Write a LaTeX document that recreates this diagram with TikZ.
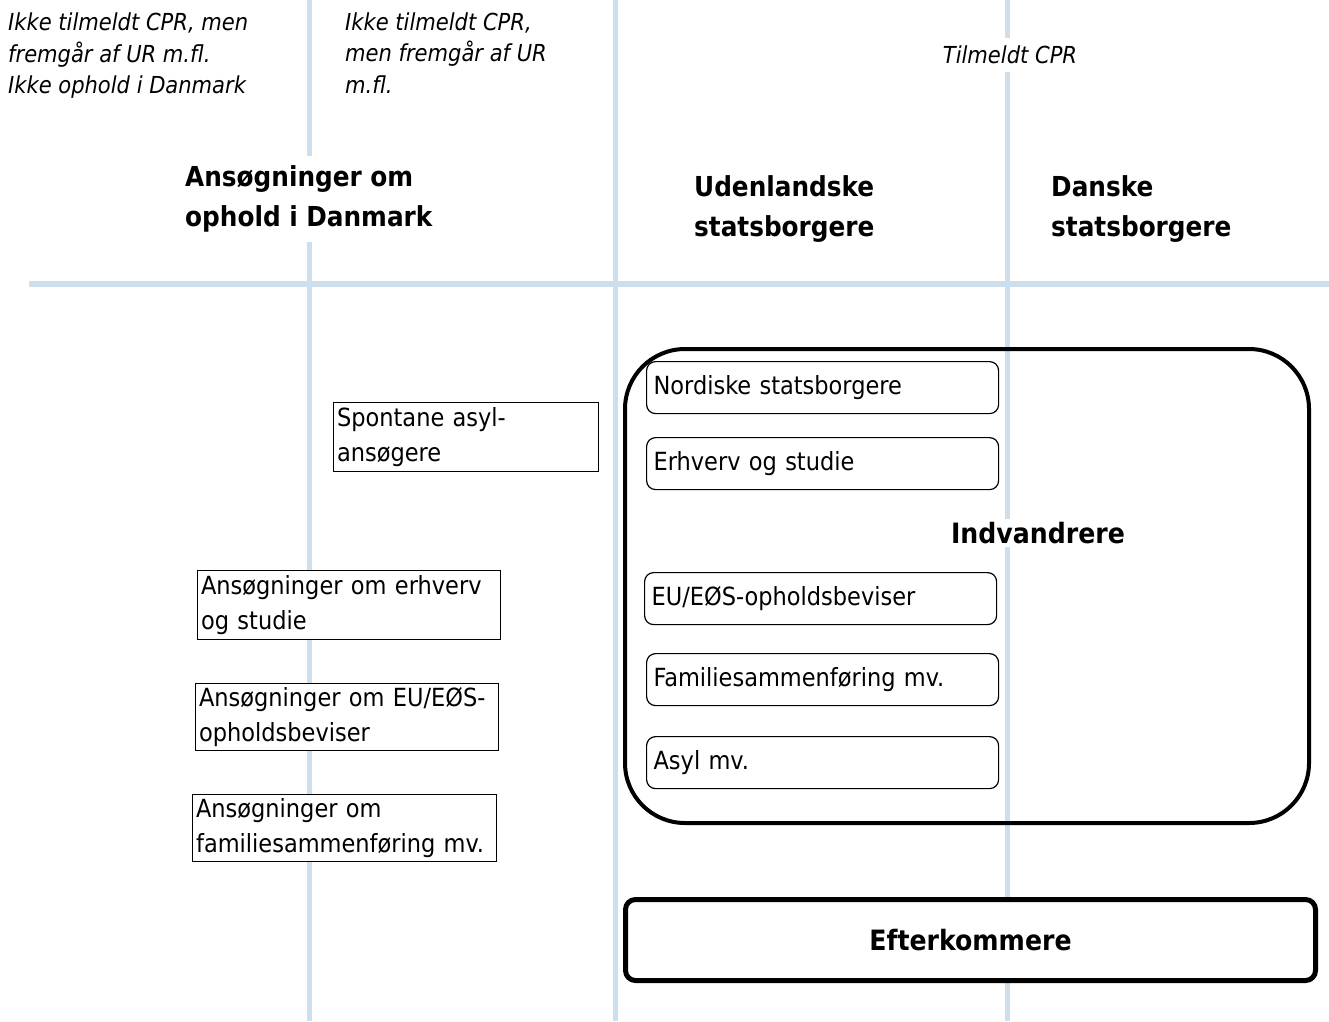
\documentclass[tikz,border=0pt]{standalone}
\usepackage{fontspec}
\setmainfont{DejaVu Sans Condensed}
\usepackage{tikz}
\usetikzlibrary{positioning}
\definecolor{gridblue}{RGB}{205,222,236}

\begin{document}
\begin{tikzpicture}[
  x=1pt, y=-1pt,
  grid/.style={draw=gridblue, line width=5pt},
  note/.style={align=left, inner sep=0pt,
               font=\fontsize{23.4}{31.5}\selectfont\itshape},
  head/.style={anchor=west, align=left, inner xsep=0pt,
               font=\fontsize{27.5}{40}\selectfont\bfseries},
  sqbox/.style 2 args={draw, line width=1.2pt, fill=white, anchor=north west,
               align=left, inner xsep=3.5pt, inner ysep=0pt, text width=#1,
               minimum height=#2, font=\fontsize{25}{35}\selectfont},
  rbox/.style={sqbox={338pt}{52pt}, rounded corners=9pt, inner xsep=7pt},
  every node/.style={font=\fontsize{25}{35}\selectfont}]

\useasboundingbox (0,0) rectangle (1329,1021);

% ================= the grid ==============================================
\draw[grid] (309,0) -- (309,1021);
\draw[grid] (615,0) -- (615,1021);
\draw[grid] (1007,0) -- (1007,1021);
\draw[grid, line width=6pt] (29,284) -- (1329,284);

% ================= column notes and headings ==============================
\node[note, anchor=west] (note1) at (8,56)
  {Ikke tilmeldt CPR, men\\fremgår af UR m.fl.\\Ikke ophold i Danmark};
\node[note, anchor=west] (note2) at (345,53)
  {Ikke tilmeldt CPR,\\men fremgår af UR\\m.fl.};
\node[note, fill=white, inner xsep=2pt, inner ysep=8pt] (note3) at (1010,55)
  {Tilmeldt CPR};

\node[head, fill=white, inner ysep=10pt] (hansog) at (185,199)
  {Ansøgninger om\\ophold i Danmark};
\node[head] (hudl) at (694,209) {Udenlandske\\statsborgere};
\node[head] (hdk)  at (1051,209) {Danske\\statsborgere};

% ================= applications ===========================================
\node[sqbox={258pt}{69pt}] (spont) at (333,402) {Spontane asyl-\\ansøgere};
\node[sqbox={296pt}{69pt}] (aerhv) at (197,570) {Ansøgninger om erhverv\\og studie};
\node[sqbox={296pt}{67pt}] (aeu)   at (195,683) {Ansøgninger om EU/EØS-\\opholdsbeviser};
\node[sqbox={297pt}{67pt}] (afam)  at (192,794) {Ansøgninger om\\familiesammenføring mv.};

% ================= immigrants =============================================
\node[draw, line width=4pt, rounded corners=60pt, anchor=north west,
      minimum width=684pt, minimum height=474pt] (indv) at (623,347) {};
\node[fill=white, inner sep=3pt, font=\fontsize{28}{30}\selectfont\bfseries]
  (lindv) at (1038,533) {Indvandrere};

\node[rbox] (nord) at (646,361) {Nordiske statsborgere};
\node[rbox] (erhv) at (646,437) {Erhverv og studie};
\node[rbox] (euos) at (644,572) {EU/EØS-opholdsbeviser};
\node[rbox] (fam)  at (646,653) {Familiesammenføring mv.};
\node[rbox] (asyl) at (646,736) {Asyl mv.};

% ================= descendants ============================================
\node[draw, line width=5pt, fill=white, rounded corners=10pt, anchor=north west,
      minimum width=690pt, minimum height=81pt,
      font=\fontsize{28}{30}\selectfont\bfseries] (efter) at (623,897) {Efterkommere};

\end{tikzpicture}
\end{document}
